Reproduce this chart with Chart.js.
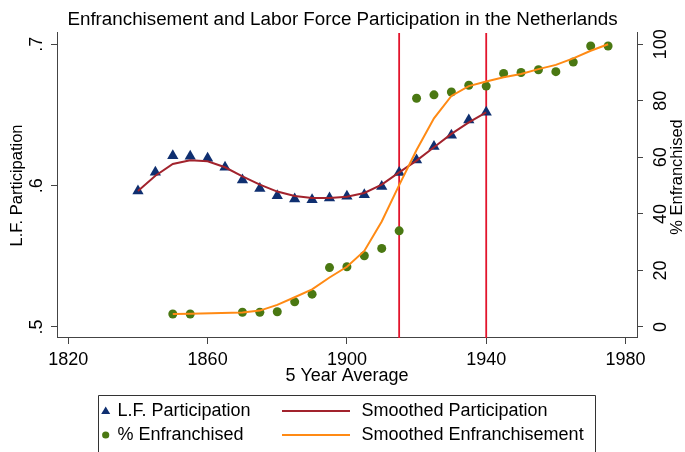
<!DOCTYPE html>
<html><head><meta charset="utf-8">
<script src="https://cdn.jsdelivr.net/npm/chart.js@4.4.0/dist/chart.umd.min.js"></script>
<style>html,body{margin:0;padding:0;background:#fff}#wrap{width:685px;height:452px;position:relative}</style>
</head><body><div id="wrap"><canvas id="c" width="685" height="452"></canvas></div>
<script>
const lfYears = [1840,1845,1850,1855,1860,1865,1870,1875,1880,1885,1890,1895,1900,1905,1910,1915,1920,1925,1930,1935,1940];
const lfValues = [0.5962,0.6094,0.6212,0.6207,0.6193,0.613,0.604,0.598,0.5929,0.5906,0.590,0.5913,0.5924,0.5936,0.5993,0.6092,0.6182,0.6276,0.6356,0.6465,0.6519];
const smoothLF = [0.5962,0.607,0.6153,0.6179,0.6172,0.613,0.6066,0.6007,0.5958,0.5927,0.5913,0.5913,0.5922,0.5948,0.6007,0.6094,0.6177,0.6271,0.6366,0.6448,0.6519];
const enfYears = [1850,1855,1870,1875,1880,1885,1890,1895,1900,1905,1910,1915,1920,1925,1930,1935,1940,1945,1950,1955,1960,1965,1970,1975];
const enfValues = [4.6,4.6,5.2,5.2,5.4,8.9,11.6,21,21.3,25.2,27.8,34,80.9,82.1,83.1,85.5,85.2,89.7,90,91,90.3,93.7,99.4,99.4];
const smoothEnf = [4.6,4.7,5.1,5.8,7.8,10.5,13.3,17.5,21.3,26.9,37.3,50.2,62.6,73.8,81.7,85.2,86.8,88.3,89.5,91.2,92.7,95,97.7,100];
const xTicks = [1820,1860,1900,1940,1980];
const yTicks = [0.5,0.6,0.7];
const y2Ticks = [0,20,40,60,80,100];
const xLines = [1915,1940];
const labels = ['L.F. Participation','% Enfranchised','Smoothed Participation','Smoothed Enfranchisement'];

const FONT = '"Liberation Sans", Arial, sans-serif';
const NAVY = '#0f2f70', GREEN = '#4a7812', MAROON = '#a2232d', ORANGE = '#ff8a14', RED = '#e2142c', AX = '#444';
Chart.defaults.font.family = FONT;
Chart.defaults.color = '#000';

const refLines = {
  id: 'refLines',
  beforeDatasetsDraw(chart) {
    const {ctx, chartArea, scales} = chart;
    ctx.save();
    ctx.strokeStyle = RED; ctx.lineWidth = 1.8;
    xLines.forEach(v => {
      const px = scales.x.getPixelForValue(v);
      ctx.beginPath(); ctx.moveTo(px, chartArea.top); ctx.lineTo(px, chartArea.bottom); ctx.stroke();
    });
    ctx.restore();
  }
};

const extras = {
  id: 'extras',
  afterDraw(chart) {
    const {ctx} = chart;
    ctx.save();
    // right axis title
    ctx.translate(677, 177);
    ctx.rotate(-Math.PI / 2);
    ctx.textAlign = 'center'; ctx.textBaseline = 'middle';
    ctx.fillStyle = '#000';
    ctx.font = '16.5px ' + FONT;
    ctx.fillText('% Enfranchised', 0, 0);
    ctx.restore();

    // legend
    ctx.save();
    ctx.strokeStyle = '#333'; ctx.lineWidth = 1;
    ctx.beginPath();
    ctx.moveTo(98.5, 470); ctx.lineTo(98.5, 395.5); ctx.lineTo(595.5, 395.5); ctx.lineTo(595.5, 470);
    ctx.stroke();
    ctx.font = '18px ' + FONT;
    ctx.textBaseline = 'middle'; ctx.textAlign = 'left';
    const ds = chart.data.datasets;
    const r1 = 411, r2 = 435;
    ctx.fillStyle = ds[0].backgroundColor;
    ctx.beginPath();
    ctx.moveTo(105.7, r1 - 4.5); ctx.lineTo(110.2, r1 + 3); ctx.lineTo(101.2, r1 + 3); ctx.closePath(); ctx.fill();
    ctx.fillStyle = ds[1].backgroundColor;
    ctx.beginPath(); ctx.arc(105.7, r2, 3.6, 0, Math.PI * 2); ctx.fill();
    ctx.lineWidth = 2;
    ctx.strokeStyle = ds[2].borderColor;
    ctx.beginPath(); ctx.moveTo(282, r1); ctx.lineTo(350, r1); ctx.stroke();
    ctx.strokeStyle = ds[3].borderColor;
    ctx.beginPath(); ctx.moveTo(282, r2); ctx.lineTo(350, r2); ctx.stroke();
    ctx.fillStyle = '#000';
    ctx.fillText(ds[0].label, 117.5, r1);
    ctx.fillText(ds[1].label, 117.5, r2);
    ctx.fillText(ds[2].label, 361.5, r1);
    ctx.fillText(ds[3].label, 361.5, r2);
    ctx.restore();
  }
};

const tickFont = {family: FONT, size: 18};
const gridOpts = {display: true, drawOnChartArea: false, drawTicks: true, tickLength: 6, color: AX};
const borderOpts = {display: true, color: AX, width: 1};

new Chart(document.getElementById('c'), {
  type: 'scatter',
  data: {
    datasets: [
      {label: labels[0], data: lfYears.map((x, i) => ({x, y: lfValues[i]})), yAxisID: 'y',
       pointStyle: 'triangle', pointRadius: 6.5, backgroundColor: NAVY, borderColor: NAVY, borderWidth: 0, showLine: false, order: 3},
      {label: labels[1], data: enfYears.map((x, i) => ({x, y: enfValues[i]})), yAxisID: 'y2',
       pointStyle: 'circle', pointRadius: 4.5, backgroundColor: GREEN, borderColor: GREEN, borderWidth: 0, showLine: false, order: 2},
      {label: labels[2], type: 'line', data: lfYears.map((x, i) => ({x, y: smoothLF[i]})), yAxisID: 'y',
       borderColor: MAROON, backgroundColor: MAROON, borderWidth: 2, pointRadius: 0, fill: false, tension: 0, order: 1},
      {label: labels[3], type: 'line', data: enfYears.map((x, i) => ({x, y: smoothEnf[i]})), yAxisID: 'y2',
       borderColor: ORANGE, backgroundColor: ORANGE, borderWidth: 2, pointRadius: 0, fill: false, tension: 0, order: 0}
    ]
  },
  options: {
    responsive: false, animation: false, devicePixelRatio: 1,
    layout: {padding: {left: 0, right: 0, top: 0, bottom: 65}},
    plugins: {
      legend: {display: false}, tooltip: {enabled: false},
      title: {display: true, text: 'Enfranchisement and Labor Force Participation in the Netherlands',
        font: {family: FONT, size: 18.8, weight: 'normal'}, color: '#000', padding: {top: 8.4, bottom: 2}}
    },
    scales: {
      x: {type: 'linear', position: 'bottom', min: 1816.75, max: 1983.3,
        afterBuildTicks: s => { s.ticks = xTicks.map(v => ({value: v})); },
        ticks: {callback: v => String(v), font: tickFont, color: '#000', padding: 5, maxRotation: 0, minRotation: 0},
        grid: gridOpts, border: borderOpts,
        title: {display: true, text: '5 Year Average', font: {family: FONT, size: 18}, color: '#000', padding: {top: 0, bottom: 0}},
        afterFit: s => { s.height = 49; }},
      y: {type: 'linear', position: 'left', min: 0.4922, max: 0.708,
        afterBuildTicks: s => { s.ticks = yTicks.map(v => ({value: v})); },
        ticks: {callback: v => '.' + Math.round(v * 10), font: tickFont, color: '#000', padding: 6.5, minRotation: 90, maxRotation: 90, crossAlign: 'center'},
        grid: gridOpts, border: borderOpts,
        title: {display: true, text: 'L.F. Participation', font: {family: FONT, size: 16.5}, color: '#000', padding: {top: 8, bottom: 0}},
        afterFit: s => { s.width = 57; }},
      y2: {type: 'linear', position: 'right', min: -3.9, max: 104,
        afterBuildTicks: s => { s.ticks = y2Ticks.map(v => ({value: v})); },
        ticks: {callback: v => String(v), font: tickFont, color: '#000', padding: 2.7, minRotation: 90, maxRotation: 90, crossAlign: 'center'},
        grid: gridOpts, border: borderOpts,
        afterFit: s => { s.width = 48; }}
    }
  },
  plugins: [refLines, extras]
});
</script>
</body></html>
